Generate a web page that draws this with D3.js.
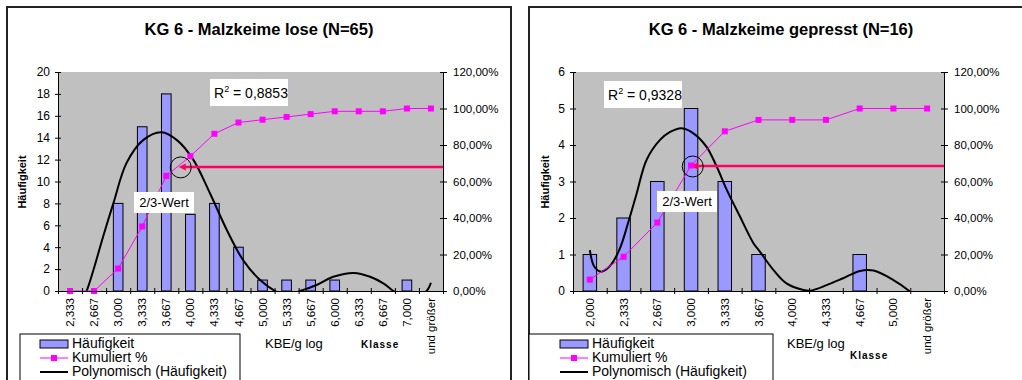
<!DOCTYPE html>
<html>
<head>
<meta charset="utf-8">
<script src="https://cdn.jsdelivr.net/npm/d3@7"></script>
<style>
body { margin: 0; background: #fff; }
svg { font-family: "Liberation Sans", Arial, sans-serif; }
</style>
</head>
<body>
<div id="charts"></div>
<script>

// ---- data: KG 6 - Malzkeime lose ----
var loseClasses = ["2,333", "2,667", "3,000", "3,333", "3,667", "4,000", "4,333", "4,667",
                   "5,000", "5,333", "5,667", "6,000", "6,333", "6,667", "7,000", "und größer"];
var loseCounts = [0, 0, 8, 15, 18, 7, 8, 4, 1, 1, 1, 1, 0, 0, 1, 0];
var loseCumulative = [0, 0, 12.31, 35.38, 63.08, 73.85, 86.15, 92.31, 93.85, 95.38, 96.92, 98.46, 98.46, 98.46, 100, 100];
// polynomial trendline: [class position, value]
var loseTrend = [[0, -3.2], [0.35, -1.6], [0.69, 0], [0.97, 1.9], [1.38, 5.0], [1.8, 8.0], [2.35, 11.7],
                 [3.05, 13.8], [3.8, 14.5], [4.43, 13.8], [5.12, 12.0], [5.82, 8.9], [6.51, 5.6], [7.2, 2.8],
                 [7.9, 1.0], [8.52, 0], [9.0, -0.45], [9.56, 0], [10.25, 0.55], [10.94, 1.3], [11.8, 1.65],
                 [12.47, 1.3], [13.02, 0.7], [13.44, 0], [14.1, -1.0], [14.82, 0], [15, 0.75]];
var loseYTicks = [0, 2, 4, 6, 8, 10, 12, 14, 16, 18, 20];
var loseR2 = "0,8853";
var loseMark = [4.6, 68];   // 2/3-Wert circle: class position, percent

// ---- data: KG 6 - Malzkeime gepresst ----
var pressClasses = ["2,000", "2,333", "2,667", "3,000", "3,333", "3,667", "4,000", "4,333", "4,667", "5,000", "und größer"];
var pressCounts = [1, 2, 3, 5, 3, 1, 0, 0, 1, 0, 0];
var pressCumulative = [6.25, 18.75, 37.5, 68.75, 87.5, 93.75, 93.75, 93.75, 100, 100, 100];
var pressTrend = [[0, 1.12], [0.13, 0.67], [0.33, 0.53], [0.58, 0.67], [0.87, 1.12], [1.16, 1.95], [1.39, 2.68],
                  [1.68, 3.59], [2.08, 4.14], [2.38, 4.36], [2.72, 4.46], [3.07, 4.32], [3.46, 3.95], [3.76, 3.41],
                  [4.06, 2.77], [4.45, 2.04], [4.85, 1.31], [5.04, 1.08], [5.44, 0.58], [5.83, 0.21], [6.33, 0.03],
                  [6.53, 0.01], [7.02, 0.16], [7.51, 0.35], [8.01, 0.55], [8.41, 0.56], [9.0, 0.3], [9.44, 0.02], [10, -0.5]];
var pressYTicks = [0, 1, 2, 3, 4, 5, 6];
var pressR2 = "0,9328";
var pressMark = [3.05, 68.5];

var pctTicks = [0, 20, 40, 60, 80, 100, 120];
var legendNames = ["Häufigkeit", "Kumuliert %", "Polynomisch (Häufigkeit)"];

var svg = d3.select("#charts").append("svg")
    .attr("width", 1022)
    .attr("height", 380);

function drawChart(o) {
  var g = svg.append("g");
  var n = o.classes.length;

  // chart frame
  g.append("rect")
    .attr("x", o.box).attr("y", 7)
    .attr("width", 504).attr("height", 420)
    .attr("fill", "#fff").attr("stroke", "#222").attr("stroke-width", 2);

  g.append("text")
    .attr("x", o.box + 252).attr("y", 35)
    .attr("text-anchor", "middle")
    .style("font-weight", "bold").style("font-size", "16.5px")
    .text(o.title);

  var top = 72, bottom = 291;
  var xb = d3.scaleBand().domain(o.classes).range([o.left, o.right])
      .paddingInner(0.6).paddingOuter(0.3);
  var xl = d3.scaleLinear().domain([-0.5, n - 0.5]).range([o.left, o.right]);
  var y = d3.scaleLinear().domain([0, o.yMax]).range([bottom, top]);
  var yp = d3.scaleLinear().domain([0, 120]).range([bottom, top]);

  g.append("rect")
    .attr("x", o.left).attr("y", top)
    .attr("width", o.right - o.left).attr("height", bottom - top)
    .attr("fill", "#c0c0c0");

  var clipId = "clip" + o.box;
  g.append("clipPath").attr("id", clipId)
    .append("rect")
    .attr("x", o.left).attr("y", top)
    .attr("width", o.right - o.left).attr("height", bottom - top);

  // bars
  g.selectAll(".bar").data(o.counts).enter().append("rect")
    .attr("x", function(d, i) { return xb(o.classes[i]); })
    .attr("y", function(d) { return y(d); })
    .attr("width", xb.bandwidth())
    .attr("height", function(d) { return bottom - y(d); })
    .attr("fill", "#9999ff").attr("stroke", "#000").attr("stroke-width", 1)
    .style("display", function(d) { return d > 0 ? null : "none"; });

  // polynomial trend
  var trendLine = d3.line()
    .x(function(d) { return xl(d[0]); })
    .y(function(d) { return y(d[1]); })
    .curve(d3.curveCatmullRom);
  g.append("path")
    .attr("clip-path", "url(#" + clipId + ")")
    .attr("d", trendLine(o.trend))
    .attr("fill", "none").attr("stroke", "#000").attr("stroke-width", 2);

  // 2/3 arrow
  var ax = xl(o.mark[0]), ay = yp(o.mark[1]);
  g.append("line")
    .attr("x1", o.right).attr("x2", ax + 4)
    .attr("y1", ay).attr("y2", ay)
    .attr("stroke", "#ff0066").attr("stroke-width", 2.5);
  g.append("path")
    .attr("d", "M" + (ax - 2) + "," + ay + "l7,-3.5l0,7z")
    .attr("fill", "#ff0066");

  // cumulative
  var cumLine = d3.line()
    .x(function(d, i) { return xl(i); })
    .y(function(d) { return yp(d); });
  g.append("path")
    .attr("d", cumLine(o.cumulative))
    .attr("fill", "none").attr("stroke", "#ff00ff").attr("stroke-width", 1);
  g.selectAll(".pt").data(o.cumulative).enter().append("rect")
    .attr("x", function(d, i) { return xl(i) - 3; })
    .attr("y", function(d) { return yp(d) - 3; })
    .attr("width", 6).attr("height", 6)
    .attr("fill", "#ff00ff");

  g.append("circle")
    .attr("cx", ax).attr("cy", ay + 0.5).attr("r", 10.5)
    .attr("fill", "none").attr("stroke", "#000").attr("stroke-width", 1);

  // axes
  var yAxis = g.append("g")
    .attr("transform", "translate(" + o.left + ",0)")
    .call(d3.axisLeft(y).tickValues(o.yTicks).tickSizeOuter(0).tickSize(3).tickPadding(5)
      .tickFormat(d3.format("d")));
  yAxis.selectAll(".tick line").attr("x1", 3);
  yAxis.selectAll("text").style("font-size", "12px");

  var pAxis = g.append("g")
    .attr("transform", "translate(" + o.right + ",0)")
    .call(d3.axisRight(yp).tickValues(pctTicks).tickSizeOuter(0).tickSize(4).tickPadding(6)
      .tickFormat(function(d) { return d.toFixed(2).replace(".", ",") + "%"; }));
  pAxis.selectAll(".tick line").attr("x1", -3);
  pAxis.selectAll("text").style("font-size", "11.5px");

  var xTicks = g.append("g")
    .attr("transform", "translate(0," + bottom + ")")
    .call(d3.axisBottom(xl).tickValues(d3.range(n + 1).map(function(i) { return i - 0.5; }))
      .tickSizeOuter(0).tickSize(3).tickFormat(""));
  xTicks.selectAll(".tick line").attr("y1", -3);

  var xLabels = g.append("g")
    .attr("transform", "translate(0," + bottom + ")")
    .call(d3.axisBottom(xb).tickSize(0));
  xLabels.select(".domain").remove();
  xLabels.selectAll("text")
    .attr("transform", "rotate(-90)")
    .attr("text-anchor", "end")
    .attr("x", -7).attr("y", 0).attr("dy", "0.35em")
    .style("font-size", "11.5px");

  g.selectAll(".domain").attr("stroke", "#000");
  g.selectAll(".tick line").attr("stroke", "#000");
  g.selectAll(".tick text").attr("fill", "#000");

  // axis titles
  g.append("text")
    .attr("transform", "translate(" + o.yTitleX + ",182) rotate(-90)")
    .attr("text-anchor", "middle").attr("dy", "0.35em")
    .style("font-weight", "bold").style("font-size", "11px")
    .text("Häufigkeit");
  g.append("text")
    .attr("x", o.kbeX).attr("y", 348)
    .style("font-size", "13px")
    .text("KBE/g log");
  g.append("text")
    .attr("x", o.klasseX).attr("y", o.klasseY)
    .style("font-weight", "bold").style("font-size", "10px").style("letter-spacing", "1px")
    .text("Klasse");

  // R² box
  var r2 = g.append("g").attr("transform", "translate(" + o.r2Pos[0] + "," + o.r2Pos[1] + ")");
  r2.append("rect").attr("width", 78).attr("height", 27).attr("fill", "#fff");
  var rt = r2.append("text").attr("x", 4).attr("y", 19).style("font-size", "14px");
  rt.append("tspan").text("R");
  rt.append("tspan").attr("dy", -6).style("font-size", "9px").text("2");
  rt.append("tspan").attr("dy", 6).text(" = " + o.r2);

  // 2/3-Wert label
  var lw = g.append("g").attr("transform", "translate(" + o.wertPos[0] + "," + o.wertPos[1] + ")");
  lw.append("rect").attr("width", 60).attr("height", 21).attr("fill", "#fff");
  lw.append("text").attr("x", 30).attr("y", 15).attr("text-anchor", "middle")
    .style("font-size", "13px").text("2/3-Wert");

  // legend
  var lg = g.append("g").attr("transform", "translate(" + o.legend[0] + ",334)");
  lg.append("rect").attr("width", o.legend[1]).attr("height", 70)
    .attr("fill", "#fff").attr("stroke", "#000").attr("stroke-width", 1);
  var sx = o.legend[2];
  lg.append("rect").attr("x", sx).attr("y", 6).attr("width", 28).attr("height", 8)
    .attr("fill", "#9999ff").attr("stroke", "#000");
  lg.append("line").attr("x1", sx).attr("x2", sx + 28).attr("y1", 24).attr("y2", 24)
    .attr("stroke", "#ff00ff").attr("stroke-width", 1);
  lg.append("rect").attr("x", sx + 11).attr("y", 21).attr("width", 6).attr("height", 6).attr("fill", "#ff00ff");
  lg.append("line").attr("x1", sx).attr("x2", sx + 28).attr("y1", 38).attr("y2", 38)
    .attr("stroke", "#000").attr("stroke-width", 2);
  lg.selectAll(".lt").data(legendNames).enter().append("text")
    .attr("x", sx + 32)
    .attr("y", function(d, i) { return 14 + i * 14; })
    .style("font-size", "14px")
    .text(function(d) { return d; });
}

drawChart({
  box: 7, left: 58, right: 443, yMax: 20,
  title: "KG 6 - Malzkeime lose (N=65)",
  classes: loseClasses, counts: loseCounts, cumulative: loseCumulative, trend: loseTrend,
  yTicks: loseYTicks, r2: loseR2, mark: loseMark,
  yTitleX: 22, kbeX: 265, klasseX: 361, klasseY: 348,
  r2Pos: [210, 79], wertPos: [134, 192], legend: [20, 220, 20]
});

drawChart({
  box: 529, left: 573, right: 944, yMax: 6,
  title: "KG 6 - Malzkeime gepresst (N=16)",
  classes: pressClasses, counts: pressCounts, cumulative: pressCumulative, trend: pressTrend,
  yTicks: pressYTicks, r2: pressR2, mark: pressMark,
  yTitleX: 545, kbeX: 787, klasseX: 850, klasseY: 359,
  r2Pos: [604, 81], wertPos: [657, 191], legend: [529, 244, 31]
});

</script>
</body>
</html>
